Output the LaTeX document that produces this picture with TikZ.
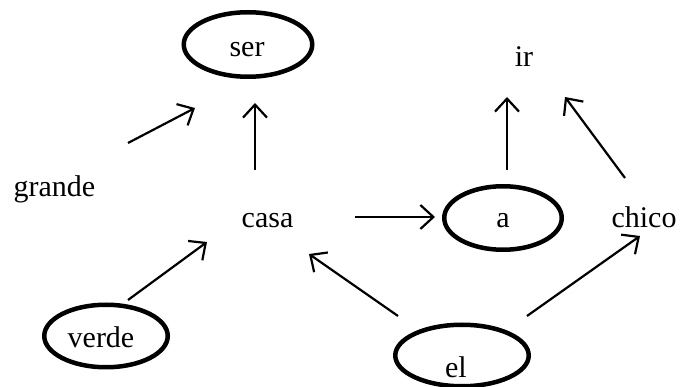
\documentclass[tikz,border=0pt]{standalone}
\usepackage{fontspec}
\setmainfont{Liberation Serif}
\usetikzlibrary{arrows.meta,shapes.geometric}
\begin{document}
\begin{tikzpicture}[x=1pt,y=-1pt,
  word/.style={anchor=base,inner sep=0pt,font=\fontsize{30}{36}\selectfont},
  ring/.style={draw,ellipse,line width=4.5pt,inner sep=0pt},
  arr/.style={line width=2.2pt,-{Straight Barb[length=13pt,width=24pt,line width=2.2pt]}}]
\useasboundingbox (0,0) rectangle (681,387);
% ellipses
\node[ring,minimum width=128.5pt,minimum height=64.5pt] (serR) at (248,44.5) {};
\node[ring,minimum width=117.5pt,minimum height=63.5pt] (aR) at (503,218) {};
\node[ring,minimum width=123.5pt,minimum height=62.5pt] (verdeR) at (106,336) {};
\node[ring,minimum width=133.5pt,minimum height=61.5pt] (elR) at (462,355.5) {};
% words
\node[word] (ser) at (247,56.7) {ser};
\node[word] (ir) at (524,67) {ir};
\node[word] (grande) at (54.5,196.7) {grande};
\node[word] (casa) at (267.5,228) {casa};
\node[word] (a) at (503,228) {a};
\node[word] (chico) at (644,228) {chico};
\node[word] (verde) at (101,348) {verde};
\node[word] (el) at (456,378) {el};
% connector ends
\coordinate (g1) at (128,143); \coordinate (g2) at (195,108);
\coordinate (c1) at (255,170); \coordinate (c2) at (255,103);
\coordinate (v1) at (128,300); \coordinate (v2) at (207,242);
\coordinate (ca1) at (355,217); \coordinate (ca2) at (435,217);
\coordinate (a1) at (507,170); \coordinate (a2) at (507,97);
\coordinate (ch1) at (625,178); \coordinate (ch2) at (565,97);
\coordinate (e1) at (398,316); \coordinate (e2) at (309,254);
\coordinate (f1) at (527,316); \coordinate (f2) at (640,236);
\draw[arr] (g1) -- (g2);
\draw[arr] (c1) -- (c2);
\draw[arr] (v1) -- (v2);
\draw[arr] (ca1) -- (ca2);
\draw[arr] (a1) -- (a2);
\draw[arr] (ch1) -- (ch2);
\draw[arr] (e1) -- (e2);
\draw[arr] (f1) -- (f2);
\end{tikzpicture}
\end{document}
